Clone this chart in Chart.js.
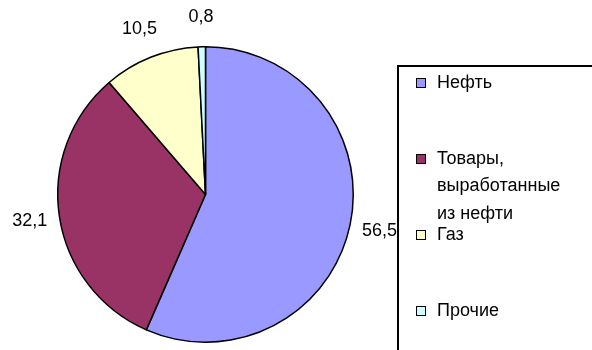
<!DOCTYPE html>
<html>
<head>
<meta charset="utf-8">
<script src="https://cdn.jsdelivr.net/npm/chart.js"></script>
<style>
  html, body { margin: 0; padding: 0; background: #fff; }
  #wrap { width: 592px; height: 350px; }
</style>
</head>
<body>
<div id="wrap"><canvas id="pieChart" width="592" height="350"></canvas></div>
<script>
// данные диаграммы
const categories = ['Нефть', ['Товары,', 'выработанные', 'из нефти'], 'Газ', 'Прочие'];
const values = [56.5, 32.1, 10.5, 0.8];

const sliceColors = ['#9999FF', '#993366', '#FFFFCC', '#CCFFFF'];
const fontFamily = '"Liberation Sans", Arial, sans-serif';

function formatValue(v) {
    return String(v).replace('.', ',');
}

// подписи значений и легенда в рамке справа
const labelsAndLegend = {
    id: 'labelsAndLegend',
    afterDatasetsDraw(chart) {
        const ctx = chart.ctx;
        const meta = chart.getDatasetMeta(0);
        ctx.save();
        ctx.font = '18px ' + fontFamily;
        ctx.fillStyle = '#000';
        ctx.textAlign = 'center';
        ctx.textBaseline = 'middle';
        meta.data.forEach((arc, i) => {
            const mid = (arc.startAngle + arc.endAngle) / 2;
            const r = arc.outerRadius + 30;
            ctx.fillText(formatValue(values[i]), arc.x + Math.cos(mid) * r, arc.y + Math.sin(mid) * r);
        });

        // рамка легенды
        ctx.strokeStyle = '#000';
        ctx.lineWidth = 2;
        ctx.strokeRect(398, 66, 400, 400);

        ctx.textAlign = 'left';
        chart.data.labels.forEach((lbl, i) => {
            const y = 83 + i * 76;
            ctx.fillStyle = sliceColors[i];
            ctx.fillRect(416, y - 5, 10, 10);
            ctx.lineWidth = 1;
            ctx.strokeRect(416.5, y - 4.5, 9, 9);
            ctx.fillStyle = '#000';
            const lines = Array.isArray(lbl) ? lbl : [lbl];
            lines.forEach((t, j) => ctx.fillText(t, 437, y + j * 27.5));
        });
        ctx.restore();
    }
};

new Chart(document.getElementById('pieChart'), {
    type: 'pie',
    data: {
        labels: categories,
        datasets: [{
            data: values,
            backgroundColor: sliceColors,
            borderColor: '#000',
            borderWidth: 1.5
        }]
    },
    options: {
        responsive: false,
        animation: false,
        layout: { padding: { left: 57, top: 46, right: 238, bottom: 7 } },
        plugins: {
            legend: { display: false },
            tooltip: { enabled: false }
        }
    },
    plugins: [labelsAndLegend]
});
</script>
</body>
</html>
